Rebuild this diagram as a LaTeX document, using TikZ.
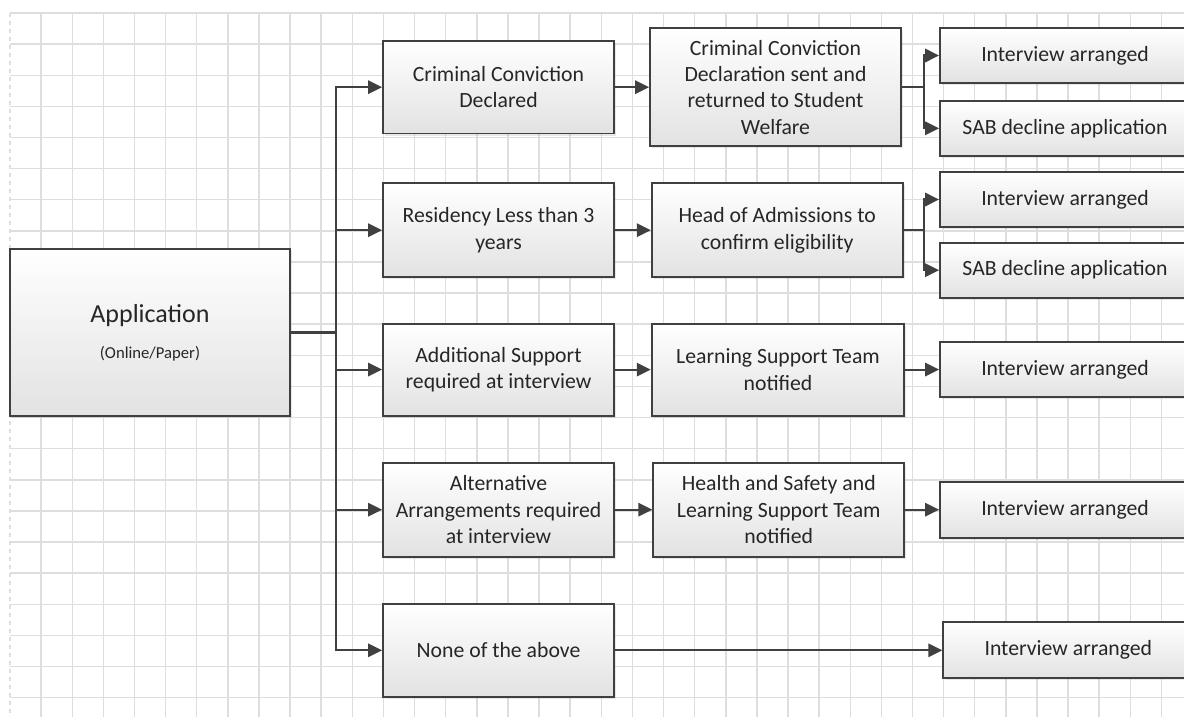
\documentclass[tikz,border=0pt]{standalone}
\usepackage{fontspec}
\setmainfont{Carlito}
\usetikzlibrary{arrows.meta,shadows}
\definecolor{gridc}{HTML}{DEDEDE}
\definecolor{linec}{HTML}{404040}
\definecolor{txtc}{HTML}{262626}
\definecolor{boxbot}{HTML}{E2E2E2}
\begin{document}
\begin{tikzpicture}[x=0.75pt,y=-0.75pt,
  sz/.style 2 args={minimum width=#1*0.75pt, minimum height=#2*0.75pt},
  box/.style={draw=linec, line width=1.4pt, top color=white, bottom color=boxbot,
    inner sep=0pt, align=center, text=txtc,
    font=\fontsize{16.3}{19.8}\selectfont,
    drop shadow={opacity=0.18, shadow xshift=1.5pt, shadow yshift=-1.5pt}},
  conn/.style={draw=linec, line width=1.6pt, line cap=rect},
  arr/.style={conn, -{Triangle[length=10.5pt,width=10pt]}},
  gridline/.style={draw=gridc, line width=1.1pt}]
\useasboundingbox (0,0) rectangle (1184,717);
\fill[white] (0,0) rectangle (1184,717);
\clip (0,0) rectangle (1184,717);
% grid
\foreach \k in {1,...,37} \draw[gridline] (10+31.12*\k,13) -- (10+31.12*\k,717);
\foreach \k in {1,...,22} \draw[gridline] (10,13+31.12*\k) -- (1184,13+31.12*\k);
\draw[gridline] (10,13) -- (1184,13);
\draw[gridline, dashed] (10,13) -- (10,717);
% boxes
\node[box, sz={280}{167}] (app) at (150,332.5)
  {{\fontsize{19.5}{24}\selectfont Application}\\[7pt]{\fontsize{12.5}{15}\selectfont (Online/Paper)}};
\node[box, sz={231}{92.6}] (c1) at (498.5,87.2) {Criminal Conviction\\Declared};
\node[box, sz={251}{118}] (c2) at (775.5,87.2) {Criminal Conviction\\Declaration sent and\\returned to Student\\Welfare};
\node[box, sz={231}{94}] (r1) at (498.5,230.2) {Residency Less than 3\\years};
\node[box, sz={251}{94}] (r2) at (777.2,230.2) {Head of Admissions to\\confirm eligibility};
\node[box, sz={231}{92}] (a1) at (498.5,369.6) {Additional Support\\required at interview};
\node[box, sz={252.6}{92}] (a2) at (778,369.6) {Learning Support Team\\notified};
\node[box, sz={231}{94}] (h1) at (498.5,509.7) {Alternative\\Arrangements required\\at interview};
\node[box, sz={251}{94}] (h2) at (778.8,509.7) {Health and Safety and\\Learning Support Team\\notified};
\node[box, sz={231}{93}] (n1) at (498.5,650.3) {None of the above};
\node[box, sz={250}{54.4}] (i1) at (1065,55.5) {Interview arranged};
\node[box, sz={250}{54.7}] (s1) at (1065,128.3) {SAB decline application};
\node[box, sz={250}{55.6}] (i2) at (1065,199.5) {Interview arranged};
\node[box, sz={250}{55}] (s2) at (1065,270.2) {SAB decline application};
\node[box, sz={250}{55}] (i3) at (1065,369.6) {Interview arranged};
\node[box, sz={250}{56}] (i4) at (1065,509.7) {Interview arranged};
\node[box, sz={250}{56}] (i5) at (1068.3,650.3) {Interview arranged};
% connectors
\coordinate (tr) at (336,0);
\coordinate (fk) at (924,0);
\draw[conn] (app.east) -- (app.east -| tr);
\draw[conn] (c1.west -| tr) -- (n1.west -| tr);
\foreach \b in {c1,r1,a1,h1,n1} \draw[arr] (\b.west -| tr) -- (\b.west);
\draw[arr] (c1.east) -- (c1.east -| c2.west);
\draw[arr] (r1.east) -- (r1.east -| r2.west);
\draw[arr] (a1.east) -- (a1.east -| a2.west);
\draw[arr] (h1.east) -- (h1.east -| h2.west);
\draw[conn] (c2.east) -- (c2.east -| fk);
\draw[conn] (i1.west -| fk) -- (s1.west -| fk);
\draw[arr] (i1.west -| fk) -- (i1.west);
\draw[arr] (s1.west -| fk) -- (s1.west);
\draw[conn] (r2.east) -- (r2.east -| fk);
\draw[conn] (i2.west -| fk) -- (s2.west -| fk);
\draw[arr] (i2.west -| fk) -- (i2.west);
\draw[arr] (s2.west -| fk) -- (s2.west);
\draw[arr] (a2.east) -- (a2.east -| i3.west);
\draw[arr] (h2.east) -- (h2.east -| i4.west);
\draw[arr] (n1.east) -- (n1.east -| i5.west);
\end{tikzpicture}
\end{document}
